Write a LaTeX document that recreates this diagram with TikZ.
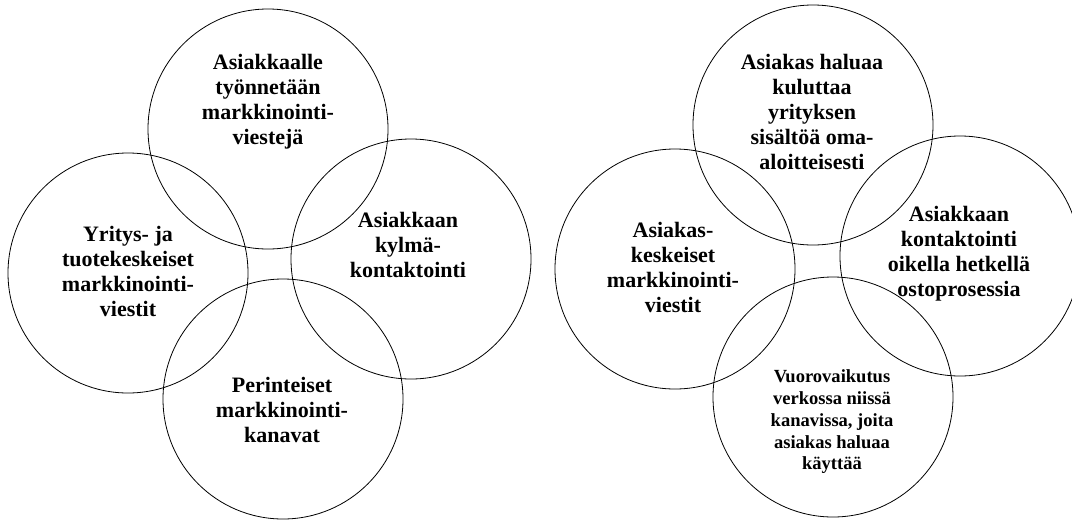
\documentclass[tikz,border=0pt]{standalone}
\usepackage{fontspec}
\setmainfont{Liberation Serif}
\usepackage{tikz}
\tikzset{
    ring/.style = {line width = 0.6pt},
    ringtext/.style = {align = center, inner sep = 0pt,
        font = \bfseries\fontsize{16.5}{18.75}\selectfont},
    smalltext/.style = {align = center, inner sep = 0pt,
        font = \bfseries\fontsize{13.9}{16.3}\selectfont}
}

\begin{document}
\begin{tikzpicture}[x = 0.75pt, y = -0.75pt]
        \useasboundingbox (0,0) rectangle (1072,519);
        \foreach \xc/\yc in {268/129,128/273,411/259,283/399,813/125,675/269,960/256,833/397}
        {
            \draw[ring] (\xc,\yc) circle[radius = 90pt];
        }

        \node[ringtext] (pushTop) at (268,102) {Asiakkaalle\\työnnetään\\markkinointi-\\viestejä};
        \node[ringtext] (pushLeft) at (128,271) {Yritys- ja\\tuotekeskeiset\\markkinointi-\\viestit};
        \node[ringtext] (pushRight) at (408,245) {Asiakkaan\\kylmä-\\kontaktointi};
        \node[ringtext] (pushBottom) at (282,410) {Perinteiset\\markkinointi-\\kanavat};

        \node[ringtext] (pullTop) at (812,112) {Asiakas haluaa\\kuluttaa\\yrityksen\\sisältöä oma-\\aloitteisesti};
        \node[ringtext] (pullLeft) at (673,267) {Asiakas-\\keskeiset\\markkinointi-\\viestit};
        \node[ringtext] (pullRight) at (959,254) {Asiakkaan\\kontaktointi\\oikella hetkellä\\ostoprosessia};
        \node[smalltext] (pullBottom) at (832,422) {Vuorovaikutus\\verkossa niissä\\kanavissa, joita\\asiakas haluaa\\käyttää};
    \end{tikzpicture}
\end{document}
